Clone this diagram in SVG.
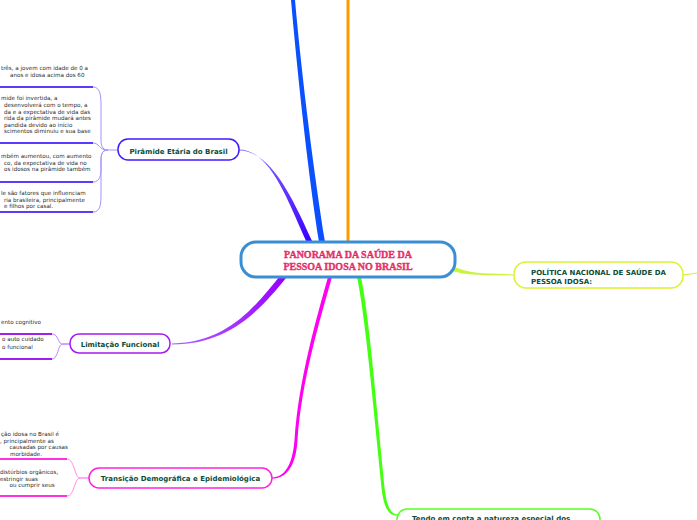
<svg xmlns="http://www.w3.org/2000/svg" width="697" height="520" viewBox="0 0 697 520">
<style>
.sub{font-family:"DejaVu Sans",Verdana,sans-serif;font-size:5.6px;fill:#2a2a2a;}
.lbl{font-family:"DejaVu Sans",Verdana,sans-serif;font-size:7px;font-weight:bold;fill:#0b4d3a;}
.ctr{font-family:"Liberation Serif","Times New Roman",serif;font-weight:bold;font-size:10px;fill:#ee3a72;stroke:#d81e5a;stroke-width:0.35;}
.box{fill:#fff;}
.ul{fill:none;stroke-width:1.8;}
.cn{fill:none;stroke-width:1;}
</style>
<defs>
<linearGradient id="gp" gradientUnits="userSpaceOnUse" x1="239" y1="150" x2="310" y2="242"><stop offset="0" stop-color="#8f70ff"/><stop offset="1" stop-color="#3a00ff"/></linearGradient>
<linearGradient id="gl" gradientUnits="userSpaceOnUse" x1="172" y1="344" x2="283" y2="277"><stop offset="0" stop-color="#b060ff"/><stop offset="1" stop-color="#9900ff"/></linearGradient>
</defs>
<rect width="697" height="520" fill="#fff"/>
<g id="connectors">
<path d="M291,0 C298,80 309,180 319,242 L325,242 C315,180 302,80 295,0 Z" fill="#0a50ff"/>
<rect x="346.5" y="0" width="3" height="242" fill="#ff9a00"/>
<path d="M306.5,242 C288,201 270,149.4 239,149.4 L239,150.6 C271,150.6 293,199 312.5,242 Z" fill="url(#gp)"/>
<path d="M280,276 C257,304 228,343.4 172,343.4 L172,344.6 C232,344.6 263,306 286,278 Z" fill="url(#gl)"/>
<path d="M328,277 C316,320 298.5,380 294.5,440 C292.5,466 284,477.4 272,477.4 L272,478.6 C286.5,478.6 296,466 297.5,440 C301.5,380 320,320 332,277 Z" fill="#ff00f0"/>
<path d="M357,277 C366,320 374.5,420 382.5,495 C385.5,512.5 391,515.6 398,515.6 L398,514.4 C393,514.4 388.5,511.5 385.5,495 C377.5,420 370,320 361,277 Z" fill="#44ff11"/>
<path d="M452,266 C462,270 470,273 490,273.6 L514,274.4 L514,275.4 L490,275.2 C468,275 460,273 452,271 Z" fill="#c8f53a"/>
<path d="M683,275 L697,273" stroke="#d0f030" class="cn"/>
<g stroke="#a890ff" class="cn">
<path d="M93,87 C100,87 101,95 101,105 L101,140 C101,148 104,150 108,150 L118,150"/>
<path d="M93,143 C99,143 100,150 106,150"/>
<path d="M93,182 C100,182 101,175 101,168 L101,160 C101,153 103,150 108,150"/>
<path d="M93,212 C100,212 101,205 101,195 L101,160 C101,153 103,150 108,150"/>
</g>
<g stroke="#5a3cff" class="ul">
<path d="M-2,87 H93"/><path d="M-2,143 H93"/><path d="M-2,182 H93"/><path d="M-2,212 H93"/>
</g>
<g stroke="#c080ff" class="cn">
<path d="M52,334 C57,334 58,340 60,343 C61,344 63,344 70,344"/>
<path d="M52,359 C57,359 58,349 60,346 C61,344 63,344 70,344"/>
</g>
<g stroke="#a020f0" class="ul"><path d="M-2,334 H52"/><path d="M-2,359 H52"/></g>
<g stroke="#ff90f0" class="cn">
<path d="M67,459 C73,459 74,470 77,476 C78,478 80,478 89,478"/>
<path d="M67,496 C73,496 74,485 77,480 C78,478 80,478 89,478"/>
</g>
<g stroke="#ff30e0" class="ul"><path d="M-2,459 H67"/><path d="M-2,496 H67"/></g>
</g>
<g id="central">
<rect x="241" y="242" width="214" height="35" rx="15" class="box" stroke="#3a8fd4" stroke-width="3"/>
<text x="348" y="257.5" text-anchor="middle" class="ctr">PANORAMA DA SAÚDE DA</text>
<text x="348" y="269.5" text-anchor="middle" class="ctr">PESSOA IDOSA NO BRASIL</text>
</g>
<g id="piramide">
<rect x="118" y="139" width="121" height="21" rx="10" class="box" stroke="#3d1cff" stroke-width="1.5"/>
<text x="178.5" y="153.5" text-anchor="middle" class="lbl">Pirâmide Etária do Brasil</text>
</g>
<g id="piramide-sub1">
<text x="1" y="70" class="sub">três, a jovem com idade de 0 a</text>
<text x="10" y="77" class="sub">anos e idosa acima dos 60</text>
</g>
<g id="piramide-sub2">
<text x="1" y="100" class="sub">mide foi invertida, a</text>
<text x="4" y="107" class="sub">desenvolverá com o tempo, a</text>
<text x="4" y="114" class="sub">da e a expectativa de vida das</text>
<text x="4" y="120" class="sub">rida da pirâmide mudará antes</text>
<text x="4" y="126.5" class="sub">pandida devido ao início</text>
<text x="4" y="133" class="sub">scimentos diminuiu e sua base</text>
</g>
<g id="piramide-sub3">
<text x="1" y="158" class="sub">mbém aumentou, com aumento</text>
<text x="4" y="164.5" class="sub">co, da expectativa de vida no</text>
<text x="4" y="171" class="sub">os idosos na pirâmide também</text>
</g>
<g id="piramide-sub4">
<text x="1" y="195" class="sub">le são fatores que influenciam</text>
<text x="4" y="202" class="sub">ria brasileira, principalmente</text>
<text x="4" y="208" class="sub">e filhos por casal.</text>
</g>
<g id="limitacao">
<rect x="70" y="334" width="100" height="19" rx="9" class="box" stroke="#a21cf0" stroke-width="1.5"/>
<text x="120" y="346.5" text-anchor="middle" class="lbl">Limitação Funcional</text>
</g>
<g id="limitacao-sub1"><text x="1" y="324" class="sub">ento cognitivo</text></g>
<g id="limitacao-sub2">
<text x="2" y="341" class="sub">o auto cuidado</text>
<text x="2" y="349" class="sub">o funcional</text>
</g>
<g id="transicao">
<rect x="89" y="468" width="183" height="20" rx="10" class="box" stroke="#ff20e0" stroke-width="1.5"/>
<text x="180.5" y="480.5" text-anchor="middle" class="lbl">Transição Demográfica e Epidemiológica</text>
</g>
<g id="transicao-sub1">
<text x="1" y="436" class="sub">ção idosa no Brasil é</text>
<text x="0" y="442.5" class="sub">, principalmente as</text>
<text x="9.5" y="449" class="sub">causadas por causas</text>
<text x="10" y="455.5" class="sub">morbidade.</text>
</g>
<g id="transicao-sub2">
<text x="0" y="474" class="sub">distúrbios orgânicos,</text>
<text x="0" y="480.5" class="sub">estringir suas</text>
<text x="9.5" y="487" class="sub">ou cumprir seus</text>
</g>
<g id="politica">
<rect x="514" y="262" width="169" height="26" rx="12" class="box" stroke="#ddf22a" stroke-width="1.5"/>
<text x="531" y="274.5" class="lbl" font-size="6.8">POLÍTICA NACIONAL DE SAÚDE DA</text>
<text x="531" y="283.5" class="lbl" font-size="6.8">PESSOA IDOSA:</text>
</g>
<g id="tendo">
<rect x="397" y="509" width="203" height="30" rx="10" class="box" stroke="#55ff22" stroke-width="1.5"/>
<text x="412" y="520.5" class="lbl">Tendo em conta a natureza especial dos</text>
</g>
</svg>
